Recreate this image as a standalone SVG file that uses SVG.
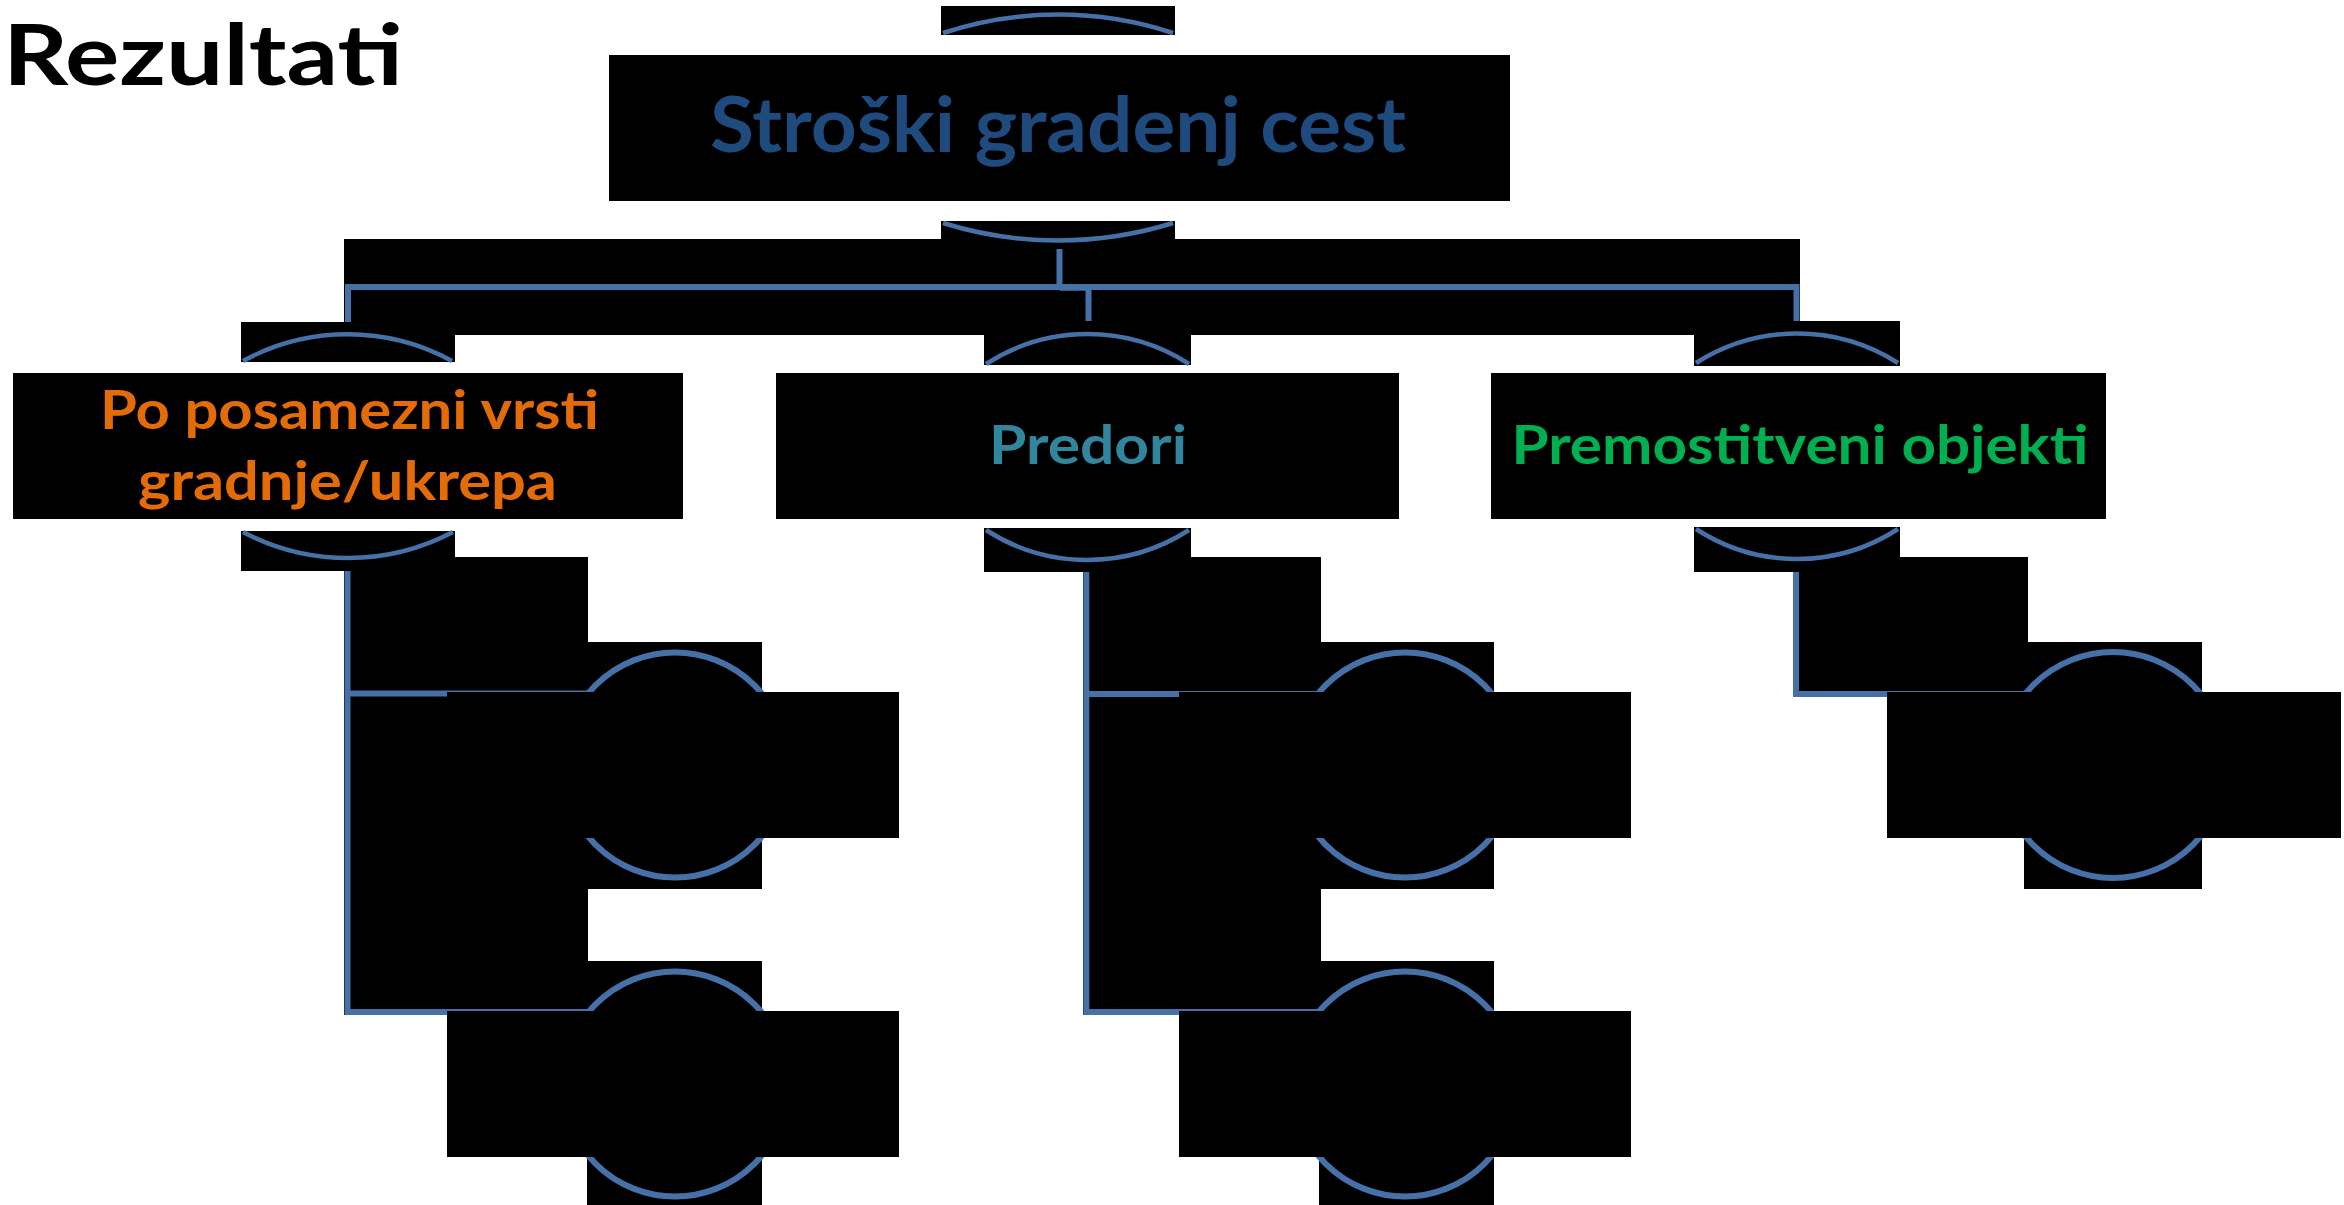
<svg xmlns="http://www.w3.org/2000/svg" width="2344" height="1205" viewBox="0 0 2344 1205">
<style>
.bk{fill:#000000}
.ln{fill:none;stroke:#4571A8;stroke-width:6}
.arc{fill:none;stroke:#4571A8;stroke-width:4.5}
.cir{fill:none;stroke:#4571A8;stroke-width:6}
.t{font-family:Lato,"Open Sans","Liberation Sans",sans-serif;font-weight:700;text-anchor:middle}
</style>
<rect width="2344" height="1205" fill="#ffffff"/>
<text x="3" y="85" font-family="Lato,'Open Sans','Liberation Sans',sans-serif" font-weight="700" font-size="85" fill="#000000" textLength="400" lengthAdjust="spacingAndGlyphs">Rezultati</text>

<g id="connectors">
  <rect class="bk" x="344" y="239" width="1456" height="96"/>
  <rect class="bk" x="344" y="557" width="244" height="458"/>
  <rect class="bk" x="1083" y="557" width="238" height="458"/>
  <rect class="bk" x="1793" y="557" width="235" height="140"/>
  <path class="ln" d="M1059.5 249 V287 H348 V322"/>
  <path class="ln" d="M1059.5 287 H1796.5 V321"/>
  <path class="ln" d="M1059.5 287.7 H1088.5 V321"/>
  <path class="ln" d="M347.5 571 V1012 H588"/>
  <path class="ln" d="M347.5 693.5 H588"/>
  <path class="ln" d="M1086.3 572 V1012 H1318"/>
  <path class="ln" d="M1086.3 694 H1318"/>
  <path class="ln" d="M1796 572 V694 H2026"/>
</g>

<g id="root">
  <rect class="bk" x="941" y="6" width="234" height="29"/>
  <path class="arc" d="M943 33 A367 367 0 0 1 1173 33"/>
  <rect class="bk" x="609" y="55" width="901" height="146"/>
  <text class="t" x="1058" y="152" font-size="77" fill="#1F4A7E" textLength="696" lengthAdjust="spacingAndGlyphs">Stroški gradenj cest</text>
  <rect class="bk" x="941" y="221" width="234" height="18"/>
  <path class="arc" d="M943 223 A387 387 0 0 0 1173 223"/>
</g>

<g id="child1">
  <rect class="bk" x="241" y="322" width="214" height="40"/>
  <path class="arc" d="M243 361 A218 218 0 0 1 452 361"/>
  <rect class="bk" x="13" y="373" width="670" height="146"/>
  <text class="t" x="349.5" y="429" font-size="54" fill="#E36C09" textLength="499" lengthAdjust="spacingAndGlyphs">Po posamezni vrsti</text>
  <text class="t" x="347.5" y="500" font-size="54" fill="#E36C09" textLength="419" lengthAdjust="spacingAndGlyphs">gradnje/ukrepa</text>
  <rect class="bk" x="241" y="531" width="214" height="40"/>
  <path class="arc" d="M243 532 A225 225 0 0 0 453 532"/>
</g>

<g id="child2">
  <rect class="bk" x="984" y="335" width="207" height="30"/>
  <path class="arc" d="M986 364 A187 187 0 0 1 1189 364"/>
  <rect class="bk" x="776" y="373" width="623" height="146"/>
  <text class="t" x="1088" y="464" font-size="54" fill="#31859C" textLength="198" lengthAdjust="spacingAndGlyphs">Predori</text>
  <rect class="bk" x="984" y="528" width="207" height="44"/>
  <path class="arc" d="M986 530 A187 187 0 0 0 1189 530"/>
</g>

<g id="child3">
  <rect class="bk" x="1694" y="321" width="206" height="45"/>
  <path class="arc" d="M1696 363 A188 188 0 0 1 1898 363"/>
  <rect class="bk" x="1491" y="373" width="615" height="146"/>
  <text class="t" x="1800" y="464" font-size="54" fill="#00B050" textLength="577" lengthAdjust="spacingAndGlyphs">Premostitveni objekti</text>
  <rect class="bk" x="1694" y="527" width="206" height="45"/>
  <path class="arc" d="M1696 529 A185 185 0 0 0 1898 529"/>
</g>

<g id="gc1a">
  <rect class="bk" x="588" y="642" width="174" height="247"/>
  <circle class="cir" cx="675" cy="765" r="112.5"/>
  <rect class="bk" x="447" y="692" width="452" height="146"/>
</g>
<g id="gc1b">
  <rect class="bk" x="587" y="961" width="175" height="244"/>
  <circle class="cir" cx="675" cy="1084" r="112.5"/>
  <rect class="bk" x="447" y="1011" width="452" height="146"/>
</g>
<g id="gc2a">
  <rect class="bk" x="1319" y="642" width="175" height="247"/>
  <circle class="cir" cx="1405" cy="765" r="112.5"/>
  <rect class="bk" x="1179" y="692" width="452" height="146"/>
</g>
<g id="gc2b">
  <rect class="bk" x="1319" y="961" width="175" height="244"/>
  <circle class="cir" cx="1405" cy="1084" r="112.5"/>
  <rect class="bk" x="1179" y="1011" width="452" height="146"/>
</g>
<g id="gc3a">
  <rect class="bk" x="2024" y="642" width="178" height="247"/>
  <circle class="cir" cx="2113" cy="765" r="113"/>
  <rect class="bk" x="1887" y="692" width="454" height="146"/>
</g>
</svg>
